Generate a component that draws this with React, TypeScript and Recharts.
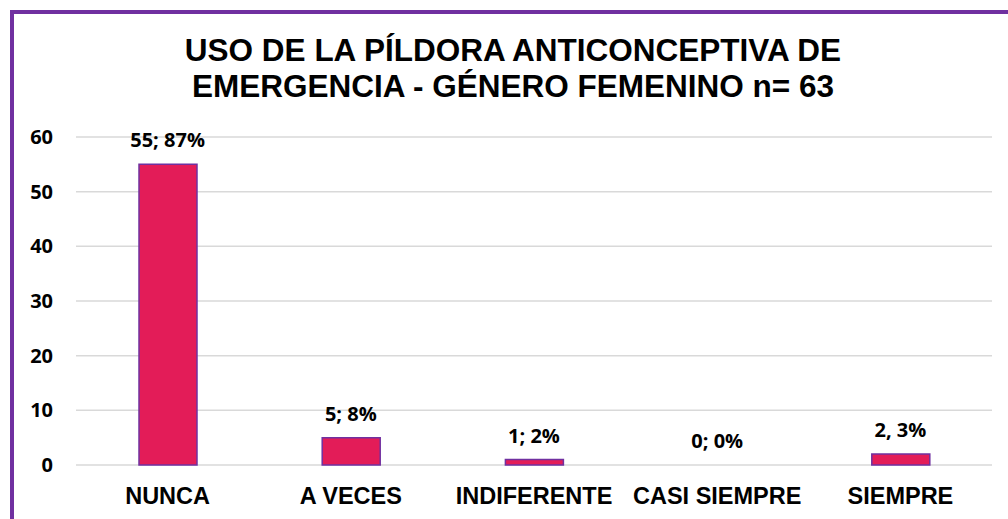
import React from "react";
import { ComposedChart, Bar, Line, XAxis, YAxis, CartesianGrid, LabelList } from "recharts";

const categories = ["NUNCA", "A VECES", "INDIFERENTE", "CASI SIEMPRE", "SIEMPRE"];
const counts = [55, 5, 1, 0, 2];
const barLabels = ["55; 87%", "5; 8%", "1; 2%", "0; 0%", "2, 3%"];
const yTicks = [0, 10, 20, 30, 40, 50, 60];
const titleLines = ["USO DE LA PÍLDORA ANTICONCEPTIVA DE", "EMERGENCIA - GÉNERO FEMENINO n= 63"];

const data = categories.map((c, i) => ({ name: c, value: counts[i], label: barLabels[i] }));

const renderLabel = (props: any) => {
  const { x, y, value } = props;
  return (
    <text
      x={x}
      y={y - 17}
      textAnchor="middle"
      fill="#000"
      style={{ fontFamily: "'Open Sans', sans-serif", fontWeight: "bold", fontSize: 20 }}
    >
      {value}
    </text>
  );
};

export default function App() {
  return (
    <div
      style={{
        position: "absolute",
        left: 10,
        top: 10,
        width: 998,
        height: 509,
        boxSizing: "border-box",
        borderLeft: "4px solid #7030A0",
        borderTop: "4px solid #7030A0",
        background: "#fff",
      }}
    >
      <div
        style={{
          position: "absolute",
          left: 0,
          top: 18,
          width: 998,
          textAlign: "center",
          fontFamily: "'Liberation Sans', Arial, sans-serif",
          fontWeight: "bold",
          fontSize: 31.5,
          lineHeight: "36px",
          color: "#000",
        }}
      >
        {titleLines.map((t, i) => (
          <div key={i}>{t}</div>
        ))}
      </div>
      <ComposedChart
        width={994}
        height={505}
        data={data}
        margin={{ top: 123, right: 16, bottom: 14, left: 12 }}
        barSize={58}
      >
        <CartesianGrid vertical={false} stroke="#d9d9d9" strokeWidth={1.5} />
        <XAxis
          dataKey="name"
          axisLine={false}
          tickLine={false}
          tickMargin={16}
          height={40}
          interval={0}
          tick={{
            fill: "#000",
            fontFamily: "'Liberation Sans', Arial, sans-serif",
            fontWeight: "bold",
            fontSize: 23.5,
          }}
        />
        <YAxis
          domain={[0, 60]}
          ticks={yTicks}
          axisLine={false}
          tickLine={false}
          tickMargin={17}
          width={50}
          tick={{
            fill: "#000",
            fontFamily: "'Open Sans', sans-serif",
            fontWeight: "bold",
            fontSize: 20,
          }}
        />
        <Bar dataKey="value" fill="#E31C58" stroke="#7030A0" strokeWidth={1.5} isAnimationActive={false} />
        <Line
          dataKey="value"
          stroke="none"
          dot={false}
          activeDot={false}
          legendType="none"
          isAnimationActive={false}
        >
          <LabelList dataKey="label" content={renderLabel} />
        </Line>
      </ComposedChart>
    </div>
  );
}
